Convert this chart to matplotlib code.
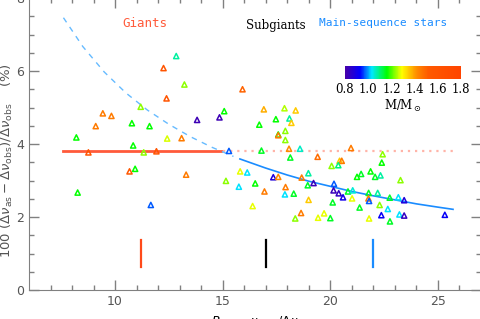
import numpy as np
import matplotlib
matplotlib.use('Agg')
import matplotlib.pyplot as plt
from matplotlib.colors import LinearSegmentedColormap, Normalize

# star positions: ratio, relative difference (%), mass (Msun)
ratio = [9.43, 9.83, 9.10, 8.20, 8.76, 10.78, 11.60, 11.19, 10.84, 11.33,
         11.92, 12.25, 12.84, 13.22, 12.39, 13.81, 14.85, 15.07, 12.42, 13.09,
         15.92, 16.91, 17.87, 18.39, 17.47, 18.10, 18.19, 16.70, 17.91, 17.58,
         17.58, 17.91, 18.08, 18.59, 16.80, 15.29, 18.14, 19.41, 10.67, 10.93,
         13.30, 15.15, 8.26, 11.66, 20.96, 22.43, 20.43, 20.53, 20.06, 20.37,
         22.39, 21.87, 21.43, 21.24, 22.33, 22.08, 23.26, 15.81, 16.14, 15.75,
         16.51, 17.35, 17.58, 16.94, 17.92, 17.89, 18.30, 18.67, 18.98, 18.95,
         19.22, 18.99, 16.39, 18.64, 18.37, 19.43, 19.71, 20.00, 20.17, 20.15,
         20.39, 20.59, 20.82, 21.04, 21.78, 21.77, 21.80, 22.20, 22.76, 23.16,
         23.43, 21.01, 22.29, 22.67, 21.36, 21.80, 22.37, 22.77, 23.21, 23.43,
         25.32, 20.11]
diff = [4.84, 4.77, 4.49, 4.18, 3.77, 4.57, 4.49, 5.02, 3.96, 3.77,
        3.80, 6.08, 6.41, 5.63, 5.25, 4.66, 4.73, 4.90, 4.15, 4.16,
        5.50, 4.95, 4.98, 4.92, 4.68, 4.70, 4.58, 4.53, 4.36, 4.26,
        4.24, 4.11, 3.87, 3.87, 3.82, 3.81, 3.63, 3.65, 3.25, 3.32,
        3.16, 2.99, 2.67, 2.33, 3.89, 3.72, 3.54, 3.54, 3.40, 3.42,
        3.49, 3.25, 3.18, 3.10, 3.14, 3.10, 3.01, 3.25, 3.22, 2.83,
        2.92, 3.09, 3.10, 2.70, 2.82, 2.62, 2.64, 3.08, 3.20, 2.87,
        2.93, 2.47, 2.30, 2.11, 1.96, 1.98, 2.10, 1.97, 2.91, 2.73,
        2.65, 2.54, 2.70, 2.73, 2.66, 2.51, 2.44, 2.66, 2.53, 2.54,
        2.46, 2.51, 2.33, 2.22, 2.26, 1.96, 2.05, 1.88, 2.07, 2.04,
        2.06, 2.40]
mass = [1.45, 1.45, 1.45, 1.16, 1.60, 1.16, 1.16, 1.23, 1.16, 1.23,
        1.60, 1.60, 1.08, 1.23, 1.60, 0.82, 0.82, 1.16, 1.27, 1.45,
        1.50, 1.38, 1.25, 1.35, 1.16, 1.08, 1.35, 1.16, 1.23, 1.16,
        1.45, 1.23, 1.42, 1.06, 1.14, 0.97, 1.14, 1.48, 1.55, 1.16,
        1.45, 1.23, 1.16, 0.97, 1.45, 1.23, 1.35, 1.45, 1.23, 1.10,
        1.16, 1.16, 1.14, 1.16, 1.08, 1.14, 1.23, 1.28, 1.03, 1.03,
        1.16, 0.88, 1.42, 1.45, 1.45, 1.03, 1.14, 1.45, 1.08, 1.14,
        0.83, 1.35, 1.28, 1.45, 1.23, 1.28, 1.28, 1.14, 0.97, 0.83,
        0.84, 0.90, 1.14, 1.05, 1.14, 1.45, 0.97, 1.08, 1.14, 1.03,
        0.88, 1.28, 1.23, 1.03, 1.14, 1.28, 0.92, 1.14, 1.03, 0.84,
        0.92, 1.14]

# model curve
curve_dash_x = [7.6, 8.5, 9.5, 10.5, 11.5, 12.5, 13.5, 14.5, 15.5]
curve_dash_y = [7.46, 6.67, 5.97, 5.40, 4.93, 4.54, 4.20, 3.91, 3.66]
curve_x = [15.8, 17, 18, 19, 20, 21, 22, 23, 24, 25, 25.7]
curve_y = [3.59, 3.34, 3.15, 2.98, 2.84, 2.70, 2.58, 2.47, 2.36, 2.27, 2.21]

giant_level = 3.8
giant_range = [7.6, 14.9]
flat_range = [15.0, 25.7]
markers_x = [11.2, 17.0, 22.0]
marker_colors = ['#ff4a1a', 'black', '#1a8cff']
bar_y = [0.63, 1.37]
cb_ticks = [0.8, 1.0, 1.2, 1.4, 1.6, 1.8]

cmap = LinearSegmentedColormap.from_list('idl', [
    (0.0, '#4800a8'), (0.13, '#0000ff'), (0.23, '#00e8ff'),
    (0.36, '#00ff00'), (0.49, '#ffff00'), (0.62, '#ff8a00'),
    (0.72, '#ff5a00'), (1.0, '#ff4400')])
norm = Normalize(0.8, 1.8)

fig = plt.figure(figsize=(4.8, 3.19), dpi=100)
ax = fig.add_axes([29 / 480, 29 / 319, 452 / 480, 292 / 319])

ax.plot(flat_range, [giant_level] * 2, color='#ffb4a8', lw=1.6,
        linestyle=(0, (1, 2.2)), zorder=1)
ax.plot(giant_range, [giant_level] * 2, color='#ff5a3a', lw=2, zorder=1)
ax.plot(curve_dash_x, curve_dash_y, color='#66bbff', lw=1,
        linestyle=(0, (4, 4)), zorder=1)
ax.plot(curve_x, curve_y, color='#1a8cff', lw=1.2, zorder=1)
for xv, c in zip(markers_x, marker_colors):
    ax.plot([xv, xv], bar_y, color=c, lw=1.6)

ax.scatter(ratio, diff, marker='^', s=14, facecolors='none',
           edgecolors=cmap(norm(np.array(mass))), linewidths=1.1, zorder=3)

ax.text(11.4, 7.31, 'Giants', color='#ff5a3a', family='DejaVu Sans Mono',
        fontsize=9, ha='center', va='center')
ax.text(17.47, 7.26, 'Subgiants', color='black', family='DejaVu Serif',
        fontsize=8.5, ha='center', va='center')
ax.text(22.47, 7.31, 'Main-sequence stars', color='#1a8cff',
        family='DejaVu Sans Mono', fontsize=8, ha='center', va='center')

ax.set_xlim(6, 27)
ax.set_ylim(0, 8)
ax.set_xticks([10, 15, 20, 25])
ax.set_xticks(np.arange(7, 27, 1), minor=True)
ax.set_yticks([0, 2, 4, 6, 8])
ax.set_yticks(np.arange(0, 8, 0.5), minor=True)
ax.tick_params(which='both', direction='in', top=True, right=True,
               colors='#808080', labelcolor='#555555', labelsize=9)
ax.tick_params(which='major', length=7, width=1)
ax.tick_params(which='minor', length=3.5, width=1)
for sp in ax.spines.values():
    sp.set_color('#808080')
ax.set_ylabel(r'100 $(\Delta\nu_{\rm as}-\Delta\nu_{\rm obs})/\Delta\nu_{\rm obs}$    (%)',
              color='#555555', fontsize=9.5, labelpad=1)
ax.yaxis.set_label_coords(-0.032, 0.445)
ax.set_xlabel(r'$R_{\rm obs}=\nu_{\rm max}/\Delta\nu$', fontsize=9, labelpad=5)

cax = fig.add_axes([345 / 480, 1 - 79 / 319, 116 / 480, 13 / 319])
sm = plt.cm.ScalarMappable(norm=norm, cmap=cmap)
cb = fig.colorbar(sm, cax=cax, orientation='horizontal')
cb.outline.set_visible(False)
cb.set_ticks(cb_ticks)
cb.ax.set_xticklabels([f'{t:.1f}' for t in cb_ticks], family='DejaVu Serif',
                      fontsize=8.5)
cb.ax.tick_params(length=0, pad=3)
cb.set_label(r'M/M$_\odot$', family='DejaVu Serif', fontsize=8.5, labelpad=1)

fig.savefig('out.png', dpi=100)
